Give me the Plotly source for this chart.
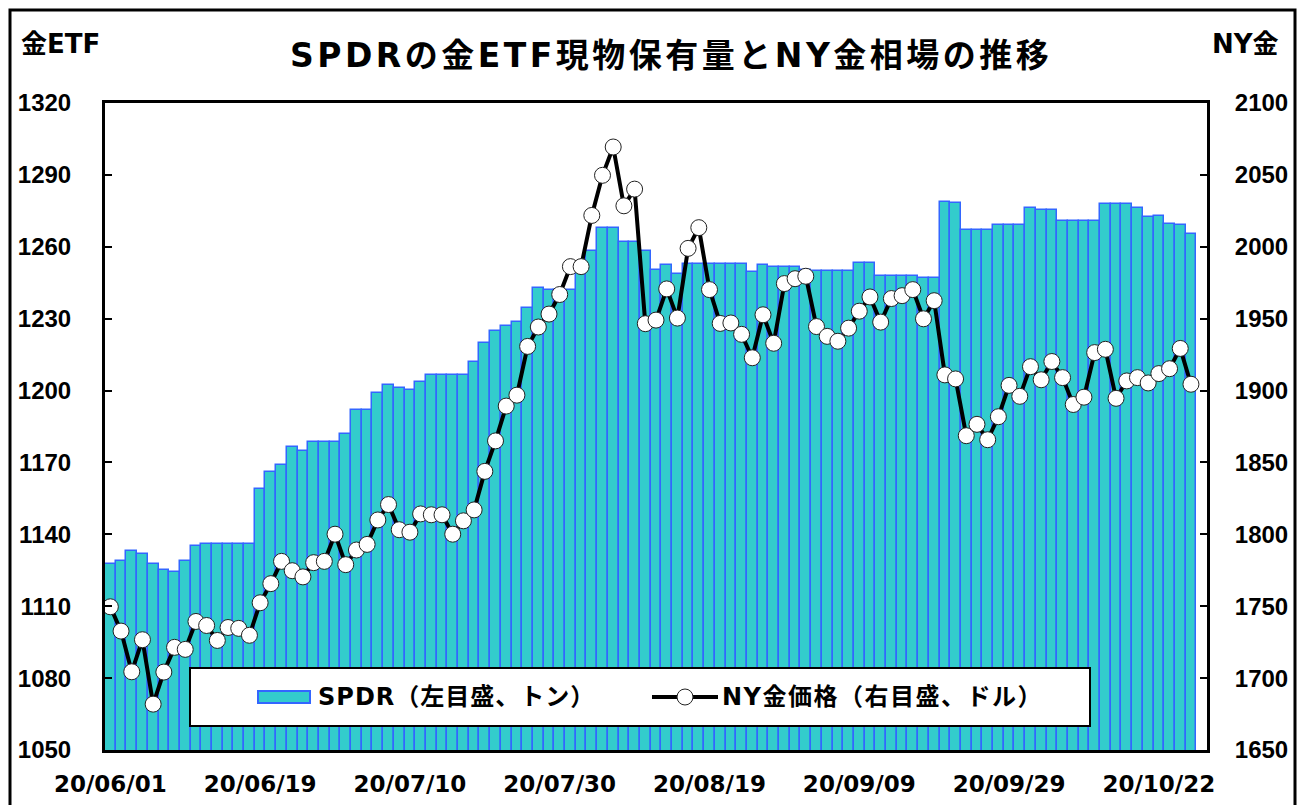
import plotly.graph_objects as go

# ---------------- data ----------------
spdr_tons = [
    1127.8, 1129.0, 1133.2, 1132.0, 1127.8, 1125.3, 1124.1, 1129.0, 1135.0, 1135.8,
    1135.8, 1135.8, 1135.8, 1135.8, 1159.0, 1165.9, 1169.0, 1176.6, 1174.9, 1178.6,
    1178.6, 1178.6, 1182.0, 1191.8, 1191.8, 1198.9, 1202.3, 1200.9, 1200.1, 1203.6,
    1206.5, 1206.5, 1206.5, 1206.5, 1212.1, 1220.0, 1224.8, 1226.8, 1228.5, 1234.4,
    1242.9, 1242.0, 1242.0, 1242.0, 1250.0, 1258.1, 1267.9, 1267.9, 1261.8, 1261.8,
    1258.1, 1250.5, 1252.2, 1248.8, 1252.7, 1252.7, 1252.7, 1252.7, 1252.7, 1252.7,
    1249.3, 1252.2, 1251.7, 1251.7, 1251.4, 1250.5, 1250.0, 1249.7, 1249.7, 1249.7,
    1253.4, 1253.4, 1247.6, 1247.6, 1247.6, 1247.6, 1247.1, 1247.1, 1278.8, 1278.1,
    1266.9, 1266.9, 1266.9, 1269.1, 1269.1, 1269.1, 1276.2, 1275.5, 1275.5, 1270.8,
    1270.8, 1270.8, 1270.8, 1277.9, 1277.9, 1277.9, 1276.2, 1272.5, 1273.0, 1269.6,
    1269.1, 1265.4,
]

ny_gold = [
    1749.6, 1732.7, 1704.4, 1726.7, 1681.9, 1704.2, 1721.4, 1720.0, 1739.4, 1736.6,
    1726.2, 1735.2, 1734.6, 1729.8, 1752.4, 1765.7, 1781.2, 1774.7, 1770.4, 1780.3,
    1781.2, 1800.1, 1778.9, 1789.1, 1793.0, 1810.0, 1820.7, 1803.2, 1801.5, 1814.2,
    1813.6, 1813.6, 1800.1, 1809.4, 1817.0, 1843.8, 1865.0, 1889.2, 1896.8, 1930.7,
    1944.2, 1953.2, 1966.8, 1986.2, 1986.2, 2021.8, 2049.7, 2069.4, 2028.5, 2040.1,
    1946.5, 1949.0, 1970.7, 1950.4, 1998.9, 2013.3, 1970.2, 1946.7, 1947.0, 1939.1,
    1922.8, 1952.7, 1932.9, 1974.4, 1977.8, 1979.5, 1944.5, 1937.7, 1934.3, 1943.4,
    1955.2, 1965.1, 1947.6, 1964.0, 1966.0, 1970.2, 1949.9, 1962.5, 1910.9, 1908.1,
    1868.6, 1876.5, 1865.8, 1881.8, 1903.6, 1896.0, 1916.6, 1907.5, 1920.2, 1909.0,
    1890.3, 1895.4, 1926.4, 1928.7, 1894.6, 1906.7, 1909.0, 1905.3, 1911.8, 1915.2,
    1929.3, 1904.4,
]

tick_positions = [0, 14, 28, 42, 56, 70, 84, 98]
tick_labels = ["20/06/01", "20/06/19", "20/07/10", "20/07/30",
               "20/08/19", "20/09/09", "20/09/29", "20/10/22"]

left_ticks = [1050, 1080, 1110, 1140, 1170, 1200, 1230, 1260, 1290, 1320]
right_ticks = [1650, 1700, 1750, 1800, 1850, 1900, 1950, 2000, 2050, 2100]

title_text = "SPDRの金ETF現物保有量とNY金相場の推移"
left_title = "金ETF"
right_title = "NY金"
legend_bar = "SPDR（左目盛、トン）"
legend_line = "NY金価格（右目盛、ドル）"

# ---------------- layout helpers ----------------
W, H = 1305, 805
PL, PR, PT, PB = 105, 1207, 103, 750


def px(x):
    return (x - PL) / (PR - PL)


def py(y):
    return (PB - y) / (PB - PT)


def spaced(text, sp):
    return '<span style="letter-spacing:%spx">%s</span>' % (sp, text)


x_idx = list(range(len(spdr_tons)))

BAR_FILL = "#33CCCC"
BAR_LINE = "#3366FF"
CJK = "Noto Sans CJK JP"
TXT_FONT = "DejaVu Sans, " + CJK

fig = go.Figure()
fig.add_trace(go.Bar(
    x=x_idx, y=spdr_tons, name=legend_bar,
    marker=dict(color=BAR_FILL, line=dict(color=BAR_LINE, width=1.5)),
    showlegend=False,
))
fig.add_trace(go.Scatter(
    x=x_idx, y=ny_gold, name=legend_line, yaxis="y2",
    mode="lines+markers",
    line=dict(color="black", width=4),
    marker=dict(symbol="circle", size=16, color="white",
                line=dict(color="#222222", width=1)),
    showlegend=False,
))

shapes = []
# outer frame
shapes.append(dict(type="rect", xref="paper", yref="paper",
                   x0=px(10), x1=px(1295), y0=py(808), y1=py(10),
                   line=dict(color="black", width=3), fillcolor="rgba(0,0,0,0)",
                   layer="above"))
# legend box
shapes.append(dict(type="rect", xref="paper", yref="paper",
                   x0=px(190), x1=px(1090), y0=py(726), y1=py(668),
                   line=dict(color="black", width=2), fillcolor="white",
                   layer="above"))
# legend bar swatch
shapes.append(dict(type="rect", xref="paper", yref="paper",
                   x0=px(258), x1=px(310), y0=py(703), y1=py(691),
                   line=dict(color=BAR_LINE, width=2), fillcolor=BAR_FILL,
                   layer="above"))
# legend line swatch
shapes.append(dict(type="line", xref="paper", yref="paper",
                   x0=px(652), x1=px(718), y0=py(697), y1=py(697),
                   line=dict(color="black", width=4), layer="above"))
shapes.append(dict(type="circle", xref="paper", yref="paper",
                   x0=px(677), x1=px(693), y0=py(705), y1=py(689),
                   line=dict(color="#222222", width=1), fillcolor="white",
                   layer="above"))

annotations = [
    dict(text="<b>" + spaced(title_text, 3.5) + "</b>", xref="paper", yref="paper",
         x=px(671), y=py(55), xanchor="center", yanchor="middle",
         showarrow=False, font=dict(family=TXT_FONT, size=33, color="black")),
    dict(text="<b>" + left_title + "</b>", xref="paper", yref="paper",
         x=px(19), y=py(44), xanchor="left", yanchor="middle",
         showarrow=False, font=dict(family=TXT_FONT, size=26, color="black")),
    dict(text="<b>" + right_title + "</b>", xref="paper", yref="paper",
         x=px(1281), y=py(44), xanchor="right", yanchor="middle",
         showarrow=False, font=dict(family=TXT_FONT, size=26, color="black")),
    dict(text="<b>" + spaced(legend_bar, 1) + "</b>", xref="paper", yref="paper",
         x=px(316), y=py(697), xanchor="left", yanchor="middle",
         showarrow=False, font=dict(family=TXT_FONT, size=24, color="black")),
    dict(text="<b>" + spaced(legend_line, 1.5) + "</b>", xref="paper", yref="paper",
         x=px(720), y=py(697), xanchor="left", yanchor="middle",
         showarrow=False, font=dict(family=TXT_FONT, size=24, color="black")),
]

fig.update_layout(
    width=W, height=H,
    margin=dict(l=PL, r=W - PR, t=PT, b=H - PB, pad=0, autoexpand=False),
    paper_bgcolor="white", plot_bgcolor="white",
    bargap=0,
    showlegend=False,
    shapes=shapes,
    annotations=annotations,
    xaxis=dict(
        range=[-0.5, 102.5], automargin=False,
        tickmode="array", tickvals=tick_positions, ticktext=tick_labels,
        ticks="", showgrid=False, zeroline=False,
        showline=True, linecolor="black", linewidth=3, mirror=True,
        tickfont=dict(family="DejaVu Sans", size=23, color="black", weight="bold"),
        ticklabelstandoff=11,
    ),
    yaxis=dict(
        range=[1050, 1320], tickmode="array", tickvals=left_ticks, automargin=False,
        ticks="inside", ticklen=7, tickwidth=2, tickcolor="black",
        showgrid=False, zeroline=False,
        showline=True, linecolor="black", linewidth=3,
        tickfont=dict(family="Liberation Sans", size=24, color="black", weight="bold"),
        ticklabelstandoff=26,
    ),
    yaxis2=dict(
        range=[1650, 2100], tickmode="array", tickvals=right_ticks, automargin=False,
        overlaying="y", side="right",
        ticks="inside", ticklen=7, tickwidth=2, tickcolor="black",
        showgrid=False, zeroline=False,
        showline=True, linecolor="black", linewidth=3,
        tickfont=dict(family="Liberation Sans", size=24, color="black", weight="bold"),
        ticklabelstandoff=20,
    ),
)

fig.write_html("out.html", config={"displayModeBar": False},
               post_script="document.body.style.margin='0';")
